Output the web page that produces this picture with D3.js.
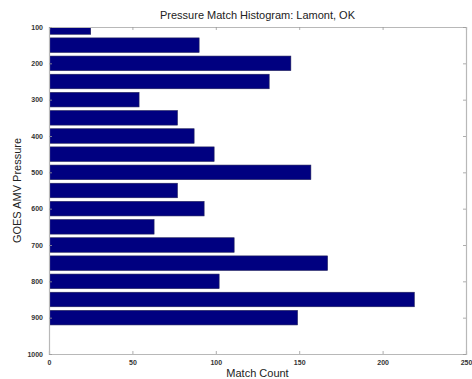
<!DOCTYPE html>
<html>
<head>
<meta charset="utf-8">
<script src="https://cdn.jsdelivr.net/npm/d3@7"></script>
<style>
  html, body { margin: 0; padding: 0; background: #fff; }
  svg { display: block; }
</style>
</head>
<body>
<svg id="chart" width="472" height="379"></svg>
<script>
// Pressure bin centres (hPa) and match counts per bin
const pressures = [100, 150, 200, 250, 300, 350, 400, 450, 500, 550, 600, 650, 700, 750, 800, 850, 900];
const counts    = [25, 90, 145, 132, 54, 77, 87, 99, 157, 77, 93, 63, 111, 167, 102, 219, 149];
const xTicks = [0, 50, 100, 150, 200, 250];
const yTicks = [100, 200, 300, 400, 500, 600, 700, 800, 900, 1000];
const titleText = "Pressure Match Histogram: Lamont, OK";
const xLabel = "Match Count";
const yLabel = "GOES AMV Pressure";

const margin = { left: 49, right: 6, top: 27, bottom: 25 };
const W = 472, H = 379;
const svg = d3.select("#chart");

const x = d3.scaleLinear().domain([0, 250]).range([margin.left, W - margin.right]);
const y = d3.scaleLinear().domain([100, 1000]).range([margin.top, H - margin.bottom]);
const binH = (y(150) - y(100)) * 0.8;

svg.append("defs").append("clipPath").attr("id", "plotclip")
  .append("rect")
  .attr("x", x(0)).attr("y", y(100))
  .attr("width", x(250) - x(0)).attr("height", y(1000) - y(100));

// Bars
svg.append("g").attr("clip-path", "url(#plotclip)")
  .selectAll("rect").data(pressures).join("rect")
  .attr("x", x(0))
  .attr("y", (p) => y(p) - binH / 2)
  .attr("width", (p, i) => x(counts[i]) - x(0))
  .attr("height", binH)
  .attr("fill", "#000080")
  .attr("stroke", "#20205a")
  .attr("stroke-width", 0.6);

const axisColor = "#b8b8b8";
const tickFont = "7px 'Liberation Sans', Arial, sans-serif";
const fmt = d3.format("d");

// Bottom axis with inward ticks
const gx = svg.append("g").attr("transform", `translate(0,${y(1000)})`)
  .call(d3.axisBottom(x).tickValues(xTicks).tickSize(-3).tickPadding(6).tickFormat(fmt));
// Top axis (ticks only)
const gxt = svg.append("g").attr("transform", `translate(0,${y(100)})`)
  .call(d3.axisTop(x).tickValues(xTicks).tickSize(-3).tickFormat(""));
// Left axis
const gy = svg.append("g").attr("transform", `translate(${x(0)},0)`)
  .call(d3.axisLeft(y).tickValues(yTicks).tickSize(-3).tickPadding(6).tickFormat(fmt));
// Right axis (ticks only)
const gyr = svg.append("g").attr("transform", `translate(${x(250)},0)`)
  .call(d3.axisRight(y).tickValues(yTicks).tickSize(-3).tickFormat(""));

[gx, gxt, gy, gyr].forEach((g) => {
  g.select(".domain").attr("stroke", axisColor).attr("stroke-width", 1.2);
  g.selectAll(".tick line").attr("stroke", "#999").attr("stroke-width", 0.8);
  g.selectAll(".tick text")
    .attr("fill", "#333")
    .style("font", tickFont)
    .style("font-weight", "bold");
});

// Title and axis labels
svg.append("text")
  .attr("x", (x(0) + x(250)) / 2).attr("y", 19)
  .attr("text-anchor", "middle")
  .attr("fill", "#222")
  .style("font", "11px 'Liberation Sans', Arial, sans-serif")
  .text(titleText);

svg.append("text")
  .attr("x", (x(0) + x(250)) / 2).attr("y", 377)
  .attr("text-anchor", "middle")
  .attr("fill", "#222")
  .style("font", "11px 'Liberation Sans', Arial, sans-serif")
  .text(xLabel);

svg.append("text")
  .attr("transform", `translate(21,${(y(100) + y(1000)) / 2}) rotate(-90)`)
  .attr("text-anchor", "middle")
  .attr("fill", "#222")
  .style("font", "11px 'Liberation Sans', Arial, sans-serif")
  .text(yLabel);
</script>
</body>
</html>
